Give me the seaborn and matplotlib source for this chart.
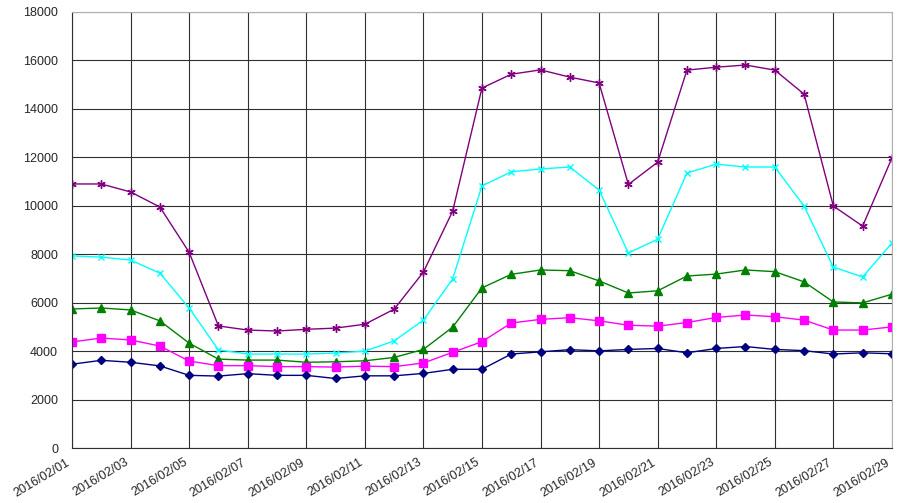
import pandas as pd
import matplotlib
matplotlib.use("Agg")
import matplotlib.pyplot as plt
import matplotlib.transforms as mtransforms
import seaborn as sns

sns.set_style("white")
plt.rcParams['font.family'] = ['Liberation Sans', 'DejaVu Sans']

dates = [f"2016/02/{d:02d}" for d in range(1, 30)]

series_a = [10900, 10900, 10570, 9950, 8080, 5040, 4870, 4830, 4900, 4950,
            5110, 5730, 7260, 9780, 14860, 15430, 15610, 15310, 15070, 10880,
            11800, 15600, 15720, 15810, 15600, 14610, 9990, 9160, 11970]
series_b = [7930, 7880, 7760, 7220, 5780, 4050, 3880, 3880, 3880, 3920,
            4000, 4420, 5280, 6980, 10820, 11400, 11520, 11600, 10650, 8050,
            8620, 11350, 11720, 11600, 11600, 9990, 7470, 7060, 8460]
series_c = [5740, 5780, 5700, 5250, 4330, 3670, 3630, 3630, 3540, 3560,
            3600, 3740, 4070, 4990, 6610, 7170, 7350, 7320, 6900, 6400,
            6490, 7100, 7180, 7350, 7280, 6860, 6030, 5990, 6350]
series_d = [4380, 4540, 4460, 4210, 3590, 3400, 3400, 3360, 3360, 3340,
            3380, 3360, 3510, 3950, 4390, 5160, 5310, 5380, 5250, 5070,
            5030, 5180, 5390, 5490, 5420, 5280, 4870, 4870, 5000]
series_e = [3460, 3620, 3540, 3390, 3000, 2970, 3070, 3000, 3000, 2870,
            2980, 2980, 3080, 3250, 3250, 3880, 3970, 4060, 4010, 4070,
            4110, 3930, 4110, 4190, 4070, 4020, 3880, 3930, 3890]

# (values, color, marker, marker size)
styles = [
    (series_a, "#800080", (6, 2, 0), 6),
    (series_b, "#00FFFF", "x", 5),
    (series_c, "#008000", "^", 6),
    (series_d, "#FF00FF", "s", 6),
    (series_e, "#000080", "D", 4.5),
]

fig = plt.figure(figsize=(9, 5.03), dpi=100)
ax = fig.add_axes([0.08, 0.1093, 0.911, 0.8669])

x = list(range(len(dates)))
for vals, color, marker, ms in styles:
    df = pd.DataFrame({"x": x, "y": vals})
    sns.lineplot(data=df, x="x", y="y", color=color, marker=marker,
                 markersize=ms, markeredgecolor=color, markeredgewidth=1,
                 linewidth=1, ax=ax)

ax.set_xlim(0, len(dates) - 1)
ax.set_ylim(0, 18000)
ax.set_yticks(range(0, 18001, 2000))
ax.set_xticks(x[::2])
ax.set_xticklabels(dates[::2], rotation=31, ha="right", rotation_mode="anchor")
ax.tick_params(axis="x", length=0, labelsize=9, pad=6)
ax.tick_params(axis="y", length=0, labelsize=9, pad=10)
ax.set_xlabel("")
ax.set_ylabel("")

# nudge date labels a little to the left like the original
shift = mtransforms.ScaledTranslation(-6 / 100, 0, fig.dpi_scale_trans)
for lbl in ax.get_xticklabels():
    lbl.set_transform(lbl.get_transform() + shift)

ax.grid(True, color="#303030", linewidth=0.8)
ax.set_axisbelow(True)
for side in ["left", "bottom"]:
    ax.spines[side].set_color("#303030")
for side in ["top", "right"]:
    ax.spines[side].set_color("#b0b0b0")

fig.savefig("out.png", dpi=100)
